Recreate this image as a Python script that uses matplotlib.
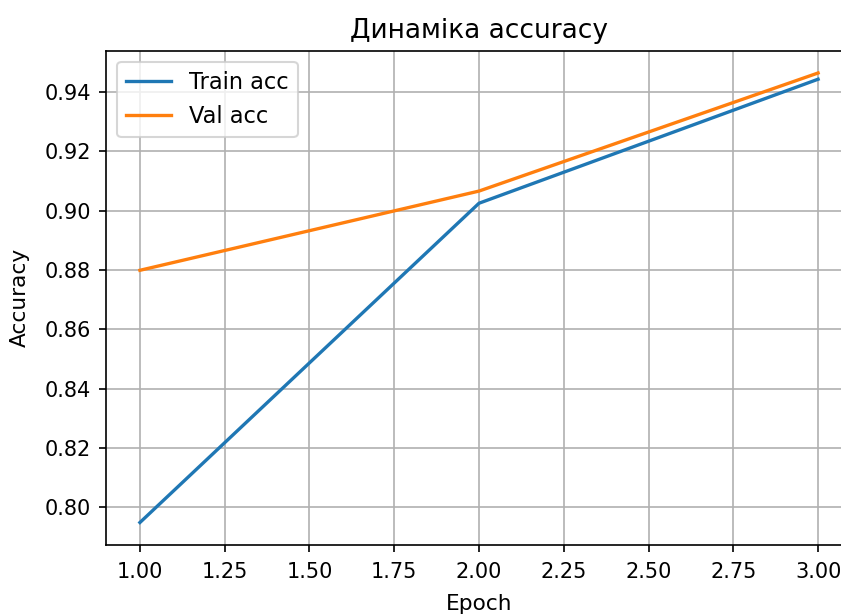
import matplotlib.pyplot as plt

epochs = [1, 2, 3]
train_acc = [0.7949, 0.9025, 0.9443]
val_acc = [0.8799, 0.9066, 0.9464]

W, H = 841, 614
fig = plt.figure(figsize=(W / 150, H / 150), dpi=150)
ax = fig.add_axes([106 / W, (H - 545) / H, 746 / W, 494.5 / H])

ax.plot(epochs, train_acc, label='Train acc', lw=1.6)
ax.plot(epochs, val_acc, label='Val acc', lw=1.6)

ax.set_title('Динаміка accuracy', fontsize=12.7)
ax.set_xlabel('Epoch', fontsize=10.4, labelpad=6)
ax.set_ylabel('Accuracy', fontsize=10.4, labelpad=7)
ax.tick_params(axis='x', pad=4.5)
ax.tick_params(axis='y', pad=3.8)
ax.grid(True)
ax.legend(loc='upper left', fontsize=10.8)

fig.savefig('out.png', dpi=150)
